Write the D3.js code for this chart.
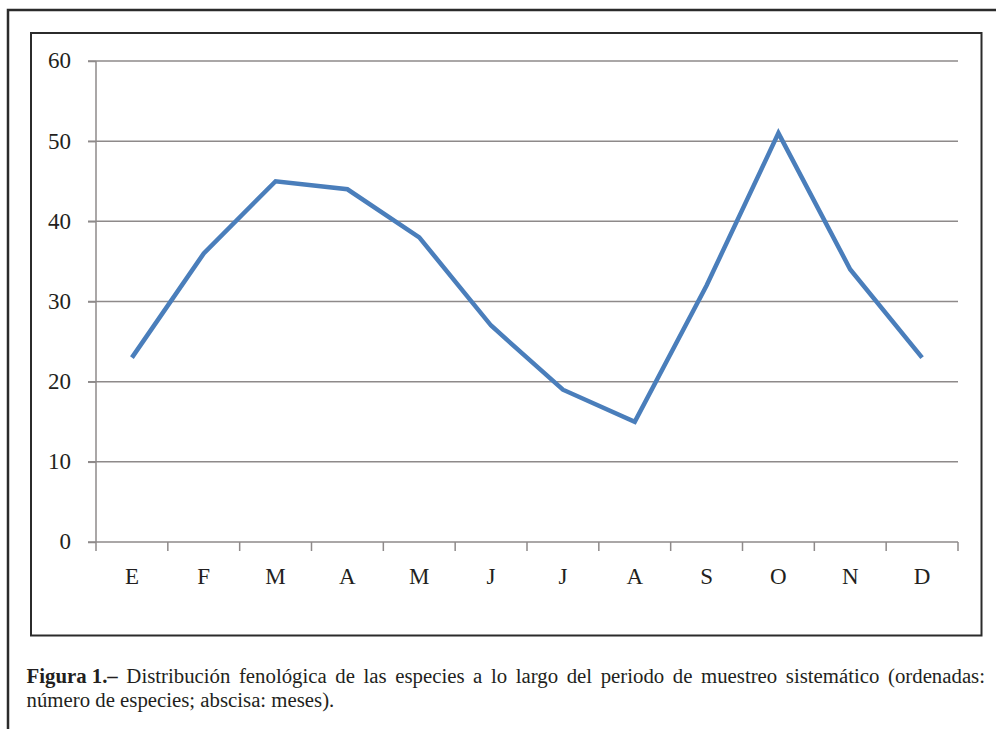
<!DOCTYPE html>
<html><head><meta charset="utf-8">
<script src="https://cdn.jsdelivr.net/npm/d3@7"></script>
<style>body{margin:0;background:#fff;}svg{display:block;}</style>
</head><body>
<script>
const months = ["E","F","M","A","M","J","J","A","S","O","N","D"];
const species = [23,36,45,44,38,27,19,15,32,51,34,23];
const yTicks = [0,10,20,30,40,50,60];
const captionBold = "Figura 1.–";
const captionLine1 = "Distribución fenológica de las especies a lo largo del periodo de muestreo sistemático (ordenadas:";
const captionLine2 = "número de especies; abscisa: meses).";

(function () {
const W = 996, H = 729;
const svg = d3.select("body").append("svg").attr("width", W).attr("height", H);
const serif = "'Liberation Serif','Times New Roman',serif";
const ink = "#231f20";
const grid = "#8e8a8a";

// outer frame (top + left)
svg.append("path").attr("d", "M8,729 L8,10 L996,10").attr("fill","none").attr("stroke","#2b2b2b").attr("stroke-width",2.5);
// inner chart box
svg.append("rect").attr("x",31).attr("y",33).attr("width",950.5).attr("height",602.5)
  .attr("fill","none").attr("stroke","#2b2b2b").attr("stroke-width",2);

const pL = 96, pR = 958, pT = 61, pB = 542;
const x = d3.scaleBand().domain(d3.range(months.length)).range([pL, pR]);
const y = d3.scaleLinear().domain([0, 60]).range([pB, pT]);

// gridlines
svg.append("g").selectAll("line").data(yTicks.filter(d => d > 0)).join("line")
  .attr("x1", pL - 8).attr("x2", pR).attr("y1", d => y(d)).attr("y2", d => y(d))
  .attr("stroke", grid).attr("stroke-width", 1.5);

// y axis
const yAxis = svg.append("g").attr("transform", `translate(${pL},0)`)
  .call(d3.axisLeft(y).tickValues(yTicks).tickSize(8).tickPadding(17));
yAxis.select(".domain").attr("stroke", grid).attr("stroke-width", 1.5).attr("d", `M0,${pT}V${pB}`);
yAxis.selectAll(".tick line").attr("stroke", grid).attr("stroke-width", 1.5);
yAxis.selectAll(".tick text").attr("font-family", serif).attr("font-size", 23).attr("fill", ink).attr("dy","0.3em");

// x axis: line + ticks between categories
svg.append("line").attr("x1", pL - 8).attr("x2", pR).attr("y1", pB).attr("y2", pB)
  .attr("stroke", grid).attr("stroke-width", 1.5);
const boundaries = d3.range(months.length + 1).map(i => i < months.length ? x(i) : x(months.length - 1) + x.bandwidth());
svg.append("g").selectAll("line").data(boundaries).join("line")
  .attr("x1", d => d).attr("x2", d => d).attr("y1", pB).attr("y2", pB + 9)
  .attr("stroke", grid).attr("stroke-width", 1.5);
svg.append("g").selectAll("text").data(months).join("text")
  .attr("x", (d, i) => x(i) + x.bandwidth() / 2).attr("y", 584)
  .attr("text-anchor", "middle").attr("font-family", serif).attr("font-size", 23).attr("fill", ink)
  .text(d => d);

// line
const line = d3.line().x((d, i) => x(i) + x.bandwidth() / 2).y(d => y(d));
svg.append("path").datum(species).attr("d", line).attr("fill", "none")
  .attr("stroke", "#4a7ebb").attr("stroke-width", 4.5).attr("stroke-linejoin", "miter");

// caption (justified first line)
const capSize = 20.8, capLeft = 26.5, capRight = 985;
const cap = svg.append("g").attr("font-family", serif).attr("font-size", capSize).attr("fill", ink);
const words1 = [{t: captionBold, b: true}].concat(captionLine1.split(" ").map(t => ({t, b: false})));
const nodes = words1.map(w => cap.append("text").attr("y", 682.5).attr("font-weight", w.b ? "bold" : "normal").text(w.t));
const widths = nodes.map(n => n.node().getComputedTextLength());
const gap = (capRight - capLeft - d3.sum(widths)) / (nodes.length - 1);
let cx = capLeft;
nodes.forEach((n, i) => { n.attr("x", cx); cx += widths[i] + gap; });
cap.append("text").attr("x", capLeft).attr("y", 706.5).text(captionLine2);
})();
</script>
</body></html>
